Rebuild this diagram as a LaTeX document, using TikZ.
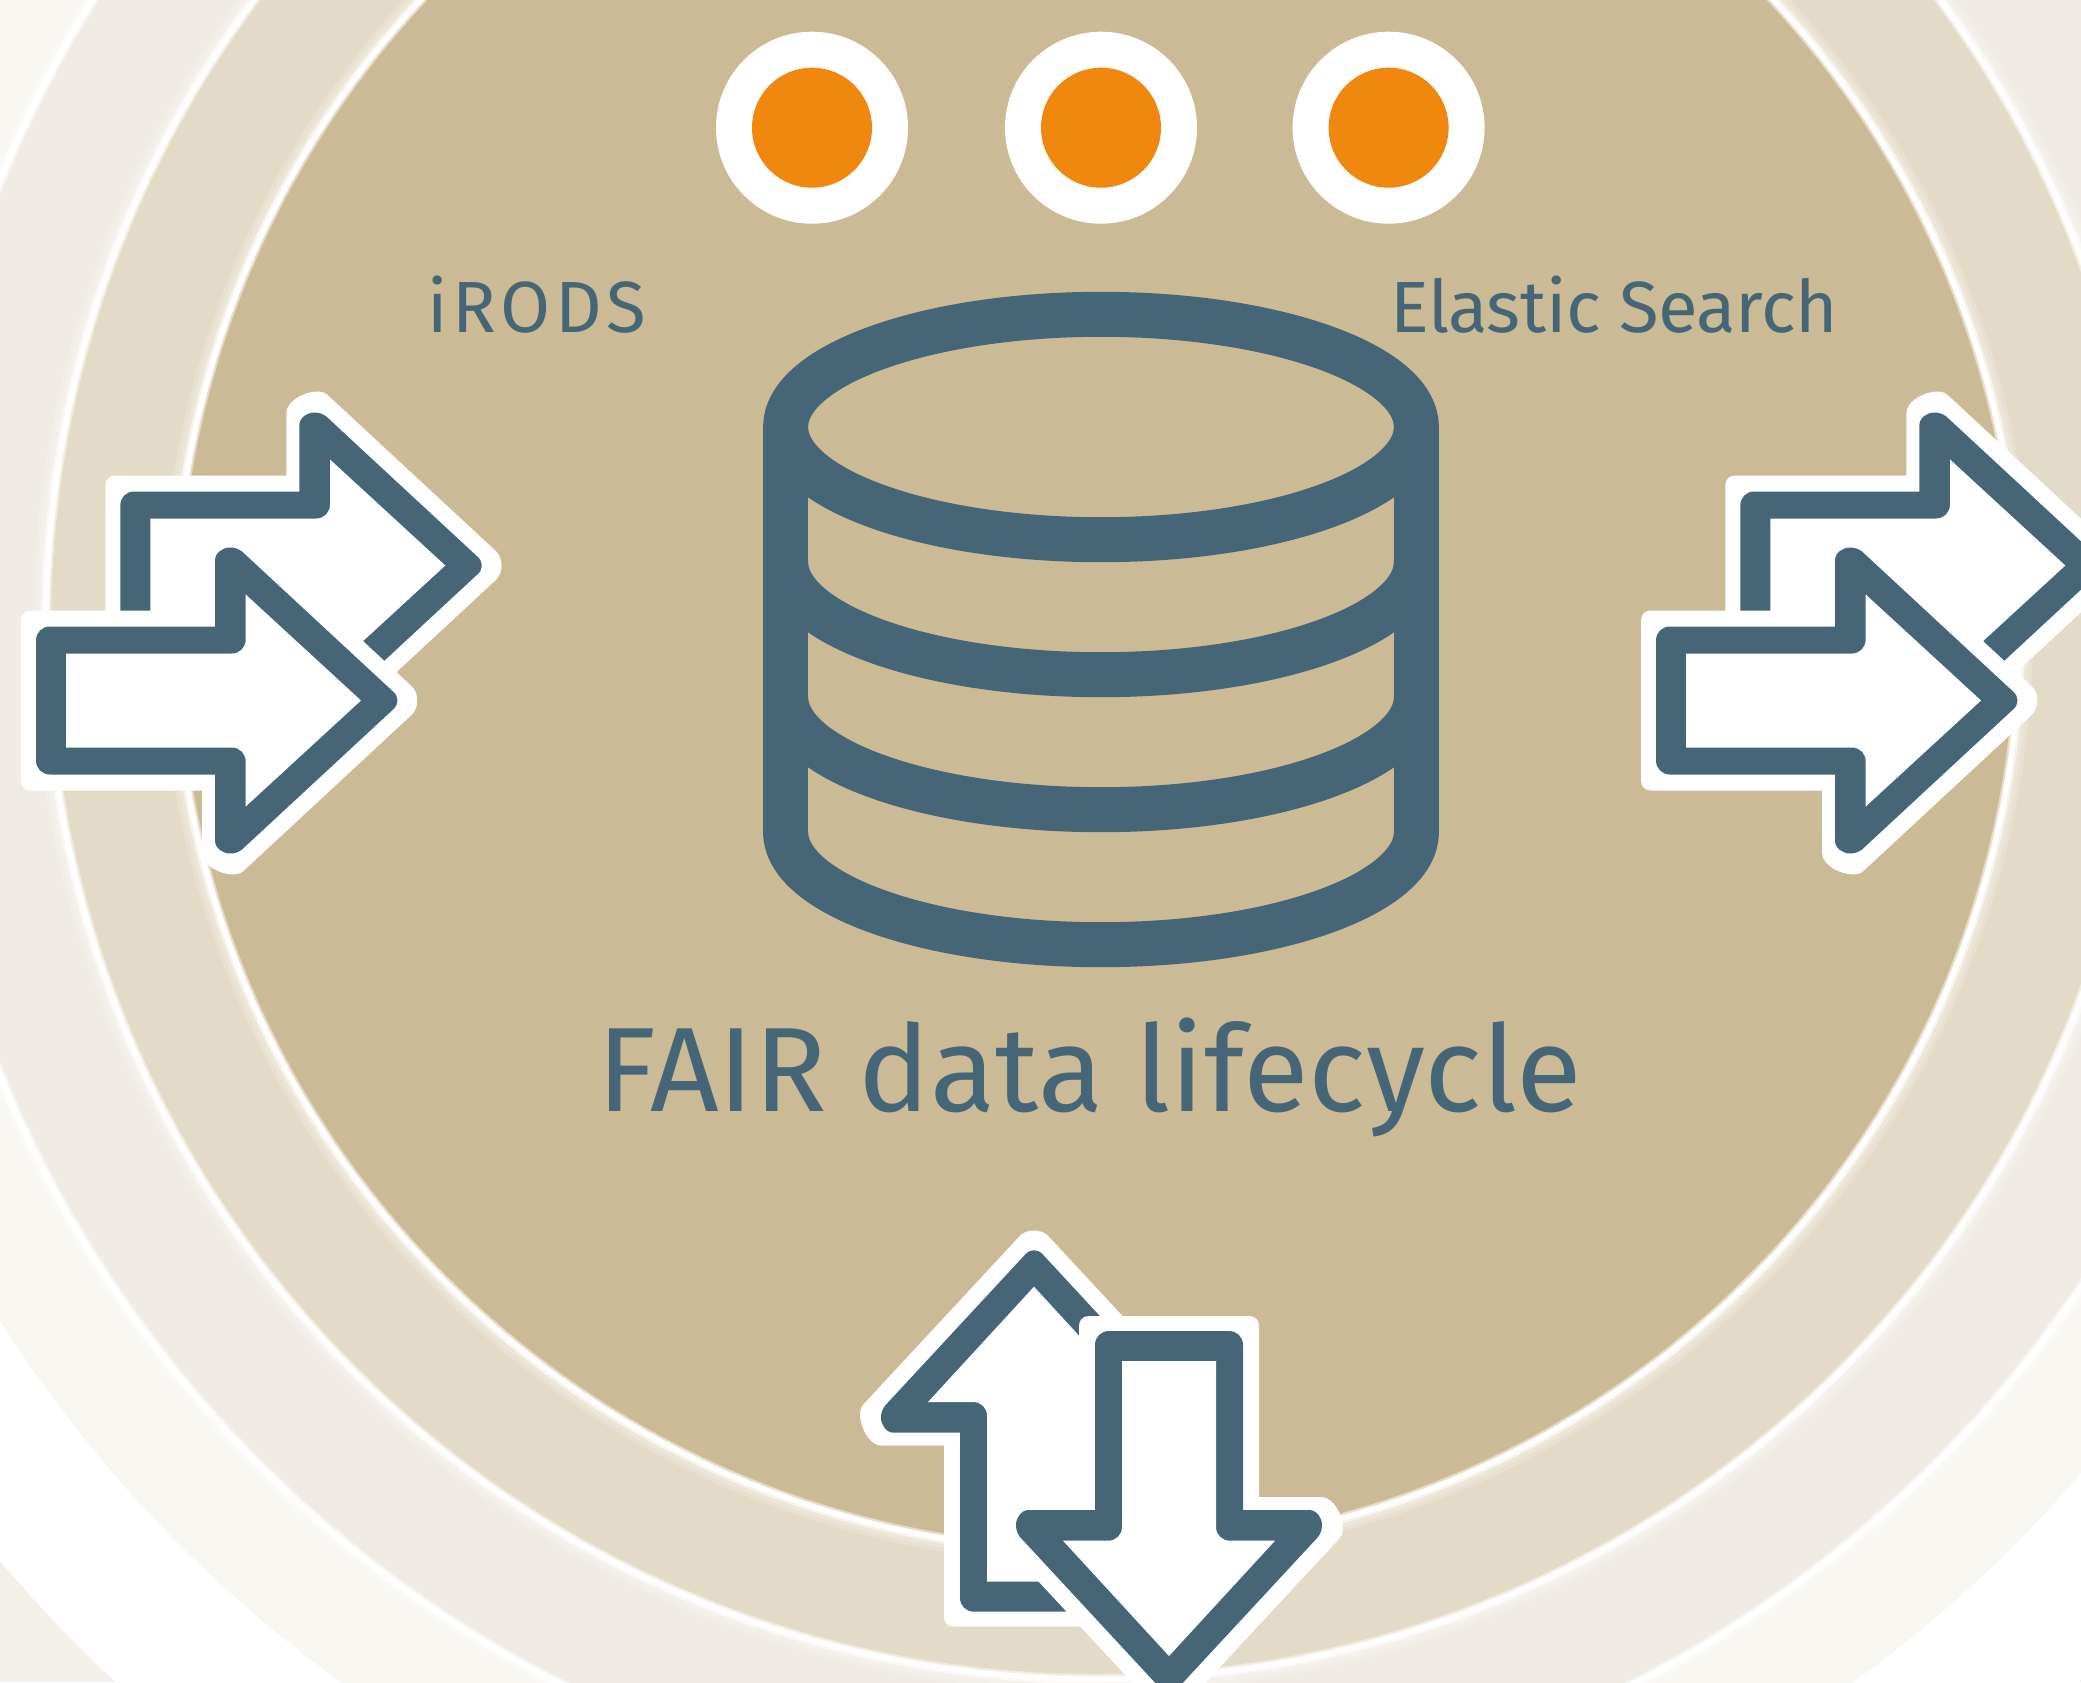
\documentclass[tikz,border=0pt]{standalone}
\usepackage{fontspec}
\setmainfont{Fira Sans}
\definecolor{discTan}{HTML}{CBBA96}
\definecolor{ringTwo}{HTML}{E3DBC8}
\definecolor{ringThree}{HTML}{F0ECE5}
\definecolor{ringFour}{HTML}{F8F6F1}
\definecolor{cornerTone}{HTML}{F3F0EA}
\definecolor{slateBlue}{HTML}{466678}
\definecolor{dotOrange}{HTML}{F08810}
\tikzset{
    db line/.style = {draw=slateBlue, line width=45pt},
    label text/.style = {text=slateBlue, inner sep=0pt, anchor=base west},
    flow arrow/.pic = {
        \fill[white] (-15,-80) .. controls (-15,-87) and (-10,-90) .. (-5,-90) -- (166,-90) -- (166,-152)
            .. controls (166,-165) and (185,-174) .. (197,-174) .. controls (203,-174) and (206,-172) .. (209,-169)
            -- (376,-14) .. controls (383,-7) and (383,7) .. (376,14) -- (209,169)
            .. controls (206,172) and (203,174) .. (197,174) .. controls (185,174) and (166,165) .. (166,152)
            -- (166,90) -- (-5,90) .. controls (-10,90) and (-15,87) .. (-15,80) -- cycle;
        \fill[slateBlue] (0,-60) .. controls (0,-68) and (6,-74) .. (14,-74) -- (179,-74) -- (179,-140)
            .. controls (179,-148) and (187,-153) .. (194,-153) .. controls (198,-153) and (202,-152) .. (206,-149)
            -- (357,-9) .. controls (363,-4) and (363,4) .. (357,9) -- (206,149)
            .. controls (202,152) and (198,153) .. (194,153) .. controls (187,153) and (179,148) .. (179,140)
            -- (179,74) -- (14,74) .. controls (6,74) and (0,68) .. (0,60) -- cycle;
        \fill[white] (30,-47) -- (196,-47) .. controls (204,-47) and (209.7,-53) .. (209.7,-61) -- (209.7,-106)
            -- (325,0) -- (209.7,106) -- (209.7,61) .. controls (209.7,53) and (204,47) .. (196,47) -- (30,47) -- cycle;
    },
}
\begin{document}
\begin{tikzpicture}[x=1pt, y=-1pt]
    \useasboundingbox (0,0) rectangle (2081,1682);
    \clip (0,0) rectangle (2081,1682);
    \coordinate (C) at (1097,628);

    \fill[cornerTone] (0,0) rectangle (2081,1682);
    \fill[white] (C) circle[radius=1440pt];
    \fill[ringFour] (C) circle[radius=1297pt];
    \fill[ringThree] (C) circle[radius=1184pt];
    \fill[ringTwo] (C) circle[radius=1051pt];
    \fill[discTan] (C) circle[radius=923pt];
    \foreach \r in {923,1051,1184} {
        \foreach \w in {4,8,...,16} {
            \draw[white, opacity=.18, line width=\w pt] (C) circle[radius=\r pt + \w pt/2 - 3pt];
        }
        \draw[white, opacity=.5, line width=10pt] (C) circle[radius=\r pt];
        \draw[white, line width=5pt] (C) circle[radius=\r pt];
    }

    \foreach \x in {812, 1101, 1388.6} {
        \fill[white] (\x,127.7) circle[radius=96pt];
        \fill[dotOrange] (\x,127.7) circle[radius=60pt];
    }

    \node[label text, font=\fontsize{72.5}{80}\selectfont\addfontfeature{LetterSpace=6.5}] (irods) at (427,332.5) {iRODS};
    \node[label text, font=\fontsize{72.5}{80}\selectfont\addfontfeature{LetterSpace=-0.6}] (elastic) at (1390,332.5) {Elastic Search};
    \node[label text, font=\fontsize{120}{130}\selectfont] (fair) at (597,1111.7) {FAIR data lifecycle};

    \draw[db line] (1101,427) ellipse[x radius=315.4pt, y radius=112.7pt];
    \foreach \y in {562,697,832} {
        \draw[db line] (785.6,\y) arc[start angle=180, end angle=360, x radius=315.4pt, y radius=112.7pt];
    }
    \draw[db line] (785.6,427) -- (785.6,836);
    \draw[db line] (1416.4,427) -- (1416.4,836);

    \pic at (120.3,565.5) {flow arrow};
    \pic at (36,700.5) {flow arrow};
    \pic at (1740.3,565.5) {flow arrow};
    \pic at (1656,700.5) {flow arrow};
    \pic[rotate=90] at (1034,1611.7) {flow arrow};
    \pic[rotate=-90] at (1169,1331) {flow arrow};
\end{tikzpicture}
\end{document}
